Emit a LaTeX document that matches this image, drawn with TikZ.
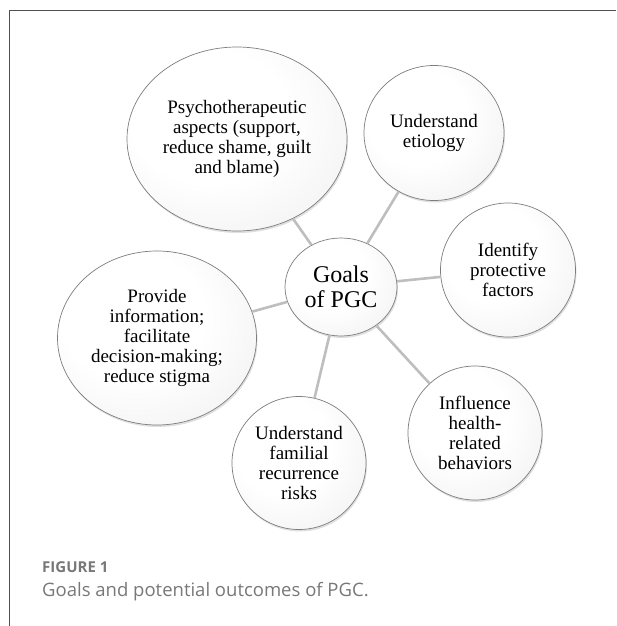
\documentclass[tikz,border=0pt]{standalone}
\usepackage{fontspec}
\setmainfont{Liberation Serif}
\newfontfamily\capfont{Open Sans}
\usetikzlibrary{shapes.geometric,shadows}
\definecolor{pgcline}{RGB}{190,190,190}
\definecolor{pgcedge}{RGB}{125,125,125}
\definecolor{pgccap}{RGB}{120,120,120}
\definecolor{pgcframe}{RGB}{80,80,80}
\pgfdeclareradialshading{goalshade}{\pgfpoint{-8bp}{8bp}}{color(0bp)=(white); color(18bp)=(white); color(50bp)=(black!9); color(75bp)=(black!16)}

\begin{document}
\begin{tikzpicture}[x=1pt, y=-1pt,
  goal/.style={ellipse, draw=pgcedge, line width=0.7pt, shading=goalshade, align=center, inner sep=0pt, font=\fontsize{19}{20}\selectfont, drop shadow={opacity=0.25, shadow xshift=1pt, shadow yshift=-2pt}},
  link/.style={draw=pgcline, line width=2.6pt},
  caption/.style={anchor=base west, inner sep=0pt, text=pgccap}]
  \useasboundingbox (0,0) rectangle (616,626);

  % Frame
  \draw[pgcframe, line width=1pt] (9,626) -- (9,11) -- (616,11);

  % Centre node
  \node[goal, minimum width=112, minimum height=98, font=\fontsize{24}{25}\selectfont] (goals) at (341,287) {Goals\\of PGC};

  % Outcome nodes
  \node[goal, minimum width=220, minimum height=184] (psy) at (237,139) {Psychotherapeutic\\aspects (support,\\reduce shame, guilt\\and blame)};
  \node[goal, minimum width=140, minimum height=135] (eti) at (434,133) {Understand\\etiology};
  \node[goal, minimum width=135, minimum height=134] (prot) at (508,270) {Identify\\protective\\factors};
  \node[goal, minimum width=199, minimum height=174] (info) at (157,338) {Provide\\information;\\facilitate\\decision-making;\\reduce stigma};
  \node[goal, minimum width=134, minimum height=133] (fam) at (299,463) {Understand\\familial\\recurrence\\risks};
  \node[goal, minimum width=134, minimum height=134] (infl) at (475,433) {Influence\\health-\\related\\behaviors};

  % Links
  \draw[link] (goals) -- (psy);
  \draw[link] (goals) -- (eti);
  \draw[link] (goals) -- (prot);
  \draw[link] (goals) -- (info);
  \draw[link] (goals) -- (fam);
  \draw[link] (goals) -- (infl);

  % Caption
  \node[caption, font=\capfont\bfseries\fontsize{15}{17}\selectfont] (fig) at (42,572) {FIGURE 1};
  \node[caption, font=\capfont\fontsize{18.5}{21}\selectfont] (cap) at (42,596) {Goals and potential outcomes of PGC.};
\end{tikzpicture}
\end{document}
